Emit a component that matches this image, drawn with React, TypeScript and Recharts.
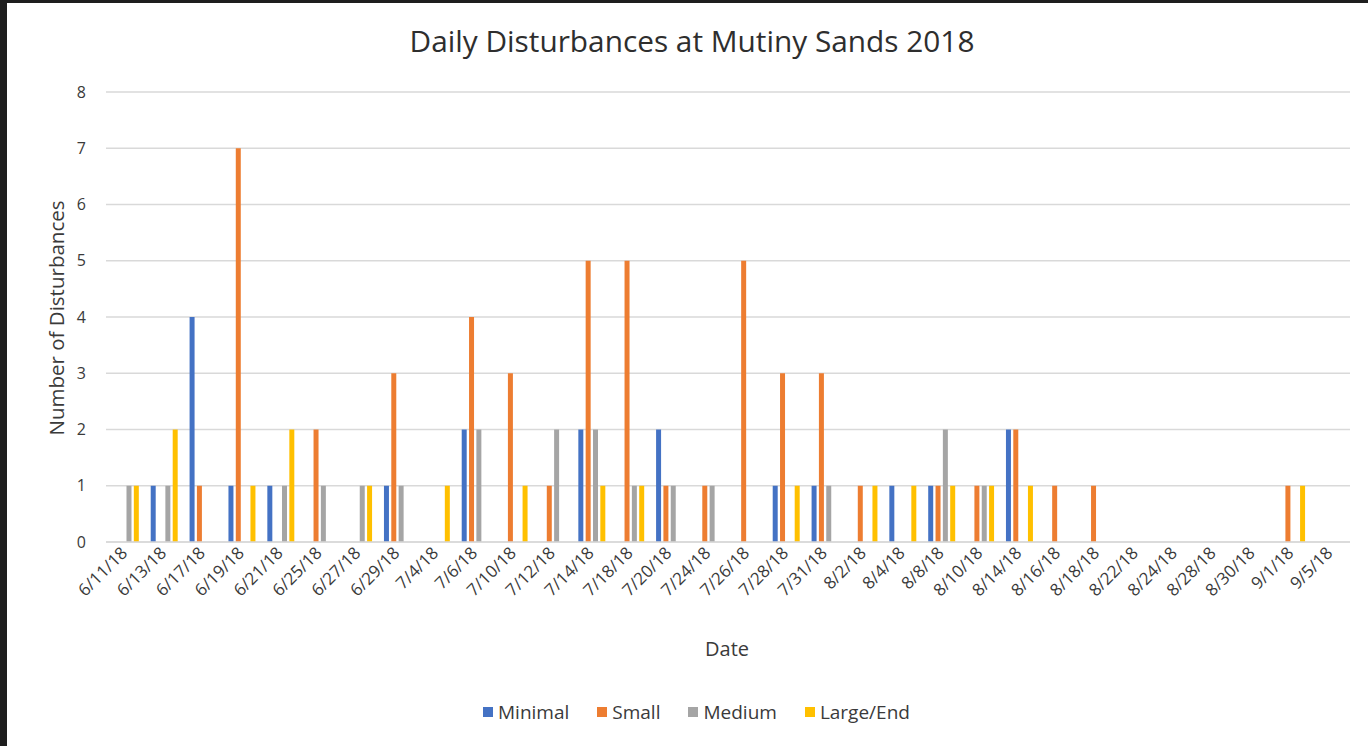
import React from 'react';
import { BarChart, Bar, XAxis, YAxis, CartesianGrid } from 'recharts';

const dates = [
  '6/11/18', '6/13/18', '6/17/18', '6/19/18', '6/21/18', '6/25/18', '6/27/18', '6/29/18',
  '7/4/18', '7/6/18', '7/10/18', '7/12/18', '7/14/18', '7/18/18', '7/20/18', '7/24/18',
  '7/26/18', '7/28/18', '7/31/18', '8/2/18', '8/4/18', '8/8/18', '8/10/18', '8/14/18',
  '8/16/18', '8/18/18', '8/22/18', '8/24/18', '8/28/18', '8/30/18', '9/1/18', '9/5/18',
];
const minimal = [0, 1, 4, 1, 1, 0, 0, 1, 0, 2, 0, 0, 2, 0, 2, 0, 0, 1, 1, 0, 1, 1, 0, 2, 0, 0, 0, 0, 0, 0, 0, 0];
const small = [0, 0, 1, 7, 0, 2, 0, 3, 0, 4, 3, 1, 5, 5, 1, 1, 5, 3, 3, 1, 0, 1, 1, 2, 1, 1, 0, 0, 0, 0, 1, 0];
const medium = [1, 1, 0, 0, 1, 1, 1, 1, 0, 2, 0, 2, 2, 1, 1, 1, 0, 0, 1, 0, 0, 2, 1, 0, 0, 0, 0, 0, 0, 0, 0, 0];
const largeEnd = [1, 2, 0, 1, 2, 0, 1, 0, 1, 0, 1, 0, 1, 1, 0, 0, 0, 1, 0, 1, 1, 1, 1, 1, 0, 0, 0, 0, 0, 0, 1, 0];
const yTicks = [0, 1, 2, 3, 4, 5, 6, 7, 8];

const seriesNames = ['Minimal', 'Small', 'Medium', 'Large/End'];
const seriesColors = ['#4472C4', '#ED7D31', '#A5A5A5', '#FFC000'];
const seriesValues = [minimal, small, medium, largeEnd];

const data = dates.map((d, i) => {
  const row: Record<string, string | number> = { date: d };
  seriesNames.forEach((n, s) => {
    row[n] = seriesValues[s][i];
  });
  return row;
});

const FONT = '"Open Sans", sans-serif';
const TEXT = '#3a3a3a';

function XTick(props: any) {
  const { x, y, payload } = props;
  return (
    <g transform={`translate(${x + 3},${y + 12})`}>
      <text x={0} y={0} textAnchor="end" transform="rotate(-45)" fontSize={17} fill={TEXT} fontFamily={FONT}>
        {payload.value}
      </text>
    </g>
  );
}

export default function App() {
  return (
    <div style={{ position: 'absolute', left: 0, top: 0, width: 1368, height: 746, background: '#1e1e1e' }}>
      <div style={{ position: 'absolute', left: 7, top: 3, width: 1361, height: 743, background: '#ffffff' }}>
        <BarChart
          width={1361}
          height={743}
          data={data}
          margin={{ top: 89, right: 18, left: 39, bottom: 104 }}
          barCategoryGap="15%"
          barGap={2.33}
        >
          <CartesianGrid vertical={false} stroke="#d9d9d9" strokeWidth={1.5} />
          <XAxis
            dataKey="date"
            interval={0}
            height={100}
            tickLine={false}
            tickSize={0}
            tickMargin={0}
            axisLine={{ stroke: '#d9d9d9', strokeWidth: 1.5 }}
            tick={<XTick />}
          />
          <YAxis
            width={60}
            domain={[0, 8]}
            ticks={yTicks}
            interval={0}
            axisLine={false}
            tickLine={false}
            tickSize={6}
            tickMargin={14}
            tick={{ fontSize: 16, fill: TEXT, fontFamily: FONT }}
          />
          {seriesNames.map((n, i) => (
            <Bar key={n} dataKey={n} fill={seriesColors[i]} isAnimationActive={false} />
          ))}
        </BarChart>

        <div
          style={{
            position: 'absolute', left: 0, top: 23, width: 1370, textAlign: 'center',
            fontFamily: FONT, fontSize: 29.8, lineHeight: '29px', color: '#2e2e2e', whiteSpace: 'nowrap',
          }}
        >
          Daily Disturbances at Mutiny Sands 2018
        </div>

        <div
          style={{
            position: 'absolute', left: 49, top: 315, transform: 'translate(-50%, -50%) rotate(-90deg)',
            fontFamily: FONT, fontSize: 20.5, lineHeight: '20px', color: TEXT, whiteSpace: 'nowrap',
          }}
        >
          Number of Disturbances
        </div>

        <div
          style={{
            position: 'absolute', left: 0, top: 636, width: 1440, textAlign: 'center',
            fontFamily: FONT, fontSize: 20, lineHeight: '20px', color: TEXT,
          }}
        >
          Date
        </div>

        <div
          style={{
            position: 'absolute', left: 476, top: 697, display: 'flex', alignItems: 'center', gap: 28,
            fontFamily: FONT, fontSize: 19, lineHeight: '24px', color: TEXT, whiteSpace: 'nowrap',
          }}
        >
          {seriesNames.map((n, i) => (
            <div key={n} style={{ display: 'flex', alignItems: 'center' }}>
              <span style={{ display: 'inline-block', width: 10, height: 10, background: seriesColors[i], marginRight: 5 }} />
              <span>{n}</span>
            </div>
          ))}
        </div>
      </div>
    </div>
  );
}
